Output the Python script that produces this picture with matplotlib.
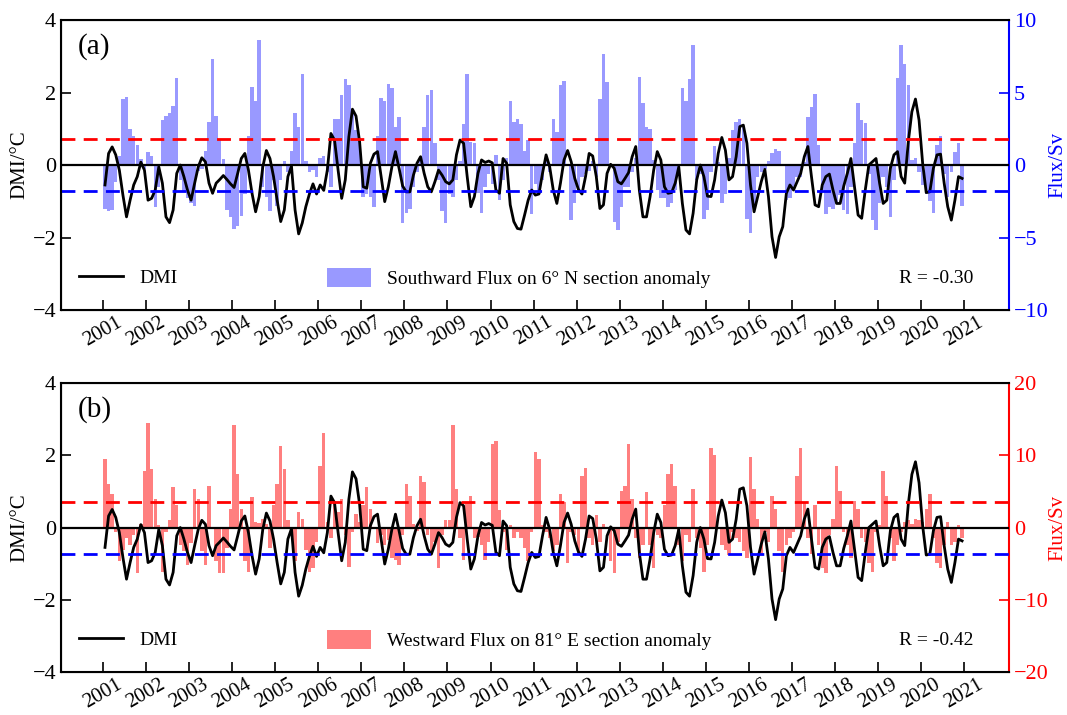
import numpy as np
import matplotlib
matplotlib.use("Agg")
import matplotlib.pyplot as plt
from matplotlib.patches import Patch
from matplotlib.lines import Line2D

plt.rcParams["font.family"] = ["Liberation Serif", "DejaVu Serif"]

# monthly data, Jan 2001 - Dec 2020 (one row per year)
dmi = [
    -0.55, 0.32, 0.50, 0.28, -0.14, -0.83, -1.43, -0.97, -0.55, -0.32, 0.08, -0.14,
    -0.97, -0.92, -0.69, -0.05, -0.50, -1.43, -1.59, -1.24, -0.23, 0.00, -0.32, -0.69,
    -0.97, -0.50, -0.05, 0.20, 0.09, -0.50, -0.78, -0.50, -0.40, -0.29, -0.40, -0.52,
    -0.62, -0.23, 0.18, 0.32, -0.14, -0.78, -1.29, -0.87, -0.05, 0.40, 0.18, -0.32,
    -0.97, -1.56, -1.24, -0.32, -0.03, -1.24, -1.90, -1.60, -1.15, -0.80, -0.52, -0.80,
    -0.55, -0.70, -0.14, 0.87, 0.69, -0.14, -0.92, -0.41, 0.78, 1.54, 1.35, 0.64,
    -0.60, -0.64, 0.05, 0.30, 0.37, -0.32, -1.01, -0.60, -0.05, 0.37, -0.09, -0.58,
    -0.74, -0.74, -0.28, 0.05, 0.23, -0.23, -0.60, -0.74, -0.46, -0.14, -0.28, -0.46,
    -0.52, -0.41, 0.28, 0.69, 0.60, -0.32, -1.15, -0.87, -0.23, 0.14, 0.07, 0.11,
    0.06, -0.69, -0.78, 0.18, 0.05, -1.10, -1.56, -1.75, -1.77, -1.38, -0.97, -0.69,
    -0.83, -0.80, -0.23, 0.28, -0.05, -0.69, -1.06, -0.50, 0.14, 0.40, 0.09, -0.37,
    -0.67, -0.80, -0.32, 0.32, 0.25, -0.32, -1.20, -1.10, -0.23, 0.02, -0.09, -0.46,
    -0.52, -0.37, -0.21, 0.23, 0.51, -0.69, -1.43, -1.43, -0.87, -0.14, 0.37, 0.14,
    -0.60, -0.78, -0.76, -0.50, -0.05, -1.06, -1.79, -1.90, -1.33, -0.41, 0.00, -0.32,
    -0.86, -0.87, -0.41, 0.32, 0.76, 0.41, -0.41, -0.32, 0.23, 1.06, 1.10, 0.60,
    -0.55, -1.29, -0.87, -0.46, -0.12, -0.87, -1.98, -2.55, -1.98, -1.70, -0.78, -0.55,
    -0.69, -0.46, -0.23, 0.23, 0.51, -0.32, -1.10, -1.15, -0.55, -0.32, -0.25, -0.69,
    -1.06, -1.06, -0.58, -0.23, 0.18, -0.60, -1.38, -1.47, -0.69, 0.00, 0.09, 0.18,
    -0.50, -1.06, -0.97, -0.09, 0.28, 0.37, -0.32, -0.50, 0.64, 1.47, 1.82, 1.24,
    0.05, -0.76, -0.74, -0.09, 0.28, 0.30, -0.50, -1.15, -1.52, -0.97, -0.32, -0.37,
]

# southward flux on 6N section anomaly (Sv)
flux_south = [
    -3.0, -3.2, -3.1, -1.2, 0.6, 4.55, 4.7, 2.5, 2.0, 1.4, 0.4, -0.3,
    0.9, 0.6, -2.9, -1.5, 3.1, 3.4, 3.6, 4.1, 6.0, -1.0, -1.8, -2.3,
    -2.6, -2.8, -0.4, -0.3, 1.0, 3.0, 7.3, 3.4, 1.7, 0.4, -3.1, -3.6,
    -4.4, -4.2, -3.5, -2.0, 2.0, 5.4, 4.4, 8.6, -1.5, -2.2, -3.2, -1.0,
    -2.8, -1.0, 0.3, -0.5, 1.0, 3.6, 2.6, 6.3, 0.3, -0.5, -0.35, -0.8,
    0.45, 0.6, -0.5, -1.5, 3.2, 3.2, 4.8, 5.9, 5.5, 3.8, 2.4, 1.7,
    -2.2, -2.0, -2.2, -2.9, 2.0, 4.6, 4.4, 5.6, 5.3, 2.6, 3.3, -4.0,
    -3.3, -3.0, -1.5, -0.5, 0.5, 2.6, 4.8, 5.2, 1.5, -1.0, -3.2, -4.0,
    -2.0, -2.2, -1.0, 0.3, 2.8, 6.3, 1.6, 1.5, -1.9, -3.3, -1.5, -0.6,
    -1.3, 0.7, -2.4, -1.0, 0.5, 4.4, 3.0, 3.2, 2.8, 1.0, 1.7, -3.4,
    -1.3, -2.0, -1.0, 0.3, -0.5, 3.2, 2.3, 5.5, 5.8, -0.1, -3.8, -2.6,
    -1.7, -0.8, -0.6, -0.4, 0.3, -0.8, 4.55, 7.65, 5.7, 0.1, -3.9, -4.5,
    -2.9, -1.5, -1.5, -0.5, 0.5, 6.1, 4.25, 2.6, 2.5, 0.35, -1.7, -2.3,
    -2.3, -2.9, -2.6, -1.7, -0.5, 5.3, 4.4, 5.9, 8.3, -1.0, -0.6, -3.7,
    -3.1, -0.5, 1.3, 0.2, -2.6, -2.0, 0.5, 2.4, 3.0, 3.2, 2.6, -3.7,
    -4.7, -2.9, -0.8, -0.5, -0.3, 0.3, 0.8, 1.1, 1.0, -0.1, -2.4, -2.3,
    -1.5, -0.8, -0.8, 0.2, 3.3, 4.0, 4.9, 1.4, -1.7, -3.4, -2.9, -3.0,
    -2.6, -2.1, -3.1, -3.4, -1.5, 1.5, 4.25, 3.1, 2.9, -0.6, -3.8, -4.5,
    -2.6, -0.8, -1.5, -3.6, -1.0, 6.0, 8.3, 7.0, 5.5, 0.35, 0.45, -0.5,
    -1.4, -2.0, -2.5, -3.3, 1.4, 2.0, -0.6, -2.2, -0.5, 0.9, 1.5, -2.8,
]

# westward flux on 81E section anomaly (Sv)
flux_west = [
    9.45, 6.0, 4.7, -0.6, -4.7, -3.1, -1.5, -2.4, -1.0, -6.3, 0.5, 7.85,
    14.5, 8.1, 4.0, 0.3, -6.1, -0.6, 1.0, 5.6, 3.1, -2.4, -3.3, -5.2,
    -2.2, 5.3, 4.0, -3.3, -5.2, 5.8, -0.2, -4.7, -6.3, -6.3, -2.9, 2.6,
    14.2, 7.4, 2.6, -4.7, -6.1, 4.2, 0.8, 0.6, 1.2, 0.5, -2.9, 3.1,
    6.0, 11.3, 8.1, 1.0, -1.0, -4.7, 2.1, 1.2, -3.1, -6.1, -5.6, -2.0,
    8.5, 13.1, 0.8, -1.5, 3.7, 2.1, 4.0, -1.0, -5.4, -0.6, 1.9, 0.8,
    3.1, 5.6, 2.6, -0.1, -2.2, -1.0, -2.4, -1.7, -4.2, -4.5, -5.2, -1.0,
    6.0, 4.4, 0.5, -0.5, 7.2, 6.3, -1.0, -3.3, -2.0, -5.6, -1.0, 1.0,
    1.0, 14.2, 5.3, -1.5, -4.5, 3.5, 4.4, -1.5, -1.3, -2.4, -4.5, -2.0,
    11.5, 12.0, 2.4, -0.6, -3.1, 0.3, -1.5, -0.6, -1.5, -2.9, -4.7, -0.6,
    10.4, 9.45, 0.3, -0.6, -1.5, -3.3, -2.4, 4.7, 3.5, -4.9, -0.6, -1.0,
    -3.8, 7.2, 8.3, -1.5, -2.4, 1.7, -2.0, 0.5, 0.1, -4.7, -6.3, -2.0,
    5.1, 5.8, 11.5, 4.0, -1.5, -4.2, -2.4, 4.9, -2.4, -5.6, -1.0, -1.5,
    3.1, 7.4, 8.8, 5.8, -2.4, -4.7, -1.0, -2.0, 5.3, -1.5, -2.9, -6.1,
    -2.4, 11.0, 10.1, -0.1, -2.4, -3.1, -3.8, -0.6, -1.5, -2.0, -3.3, -4.2,
    9.7, 5.3, 1.2, -3.8, -0.6, -2.0, 4.4, 2.6, -3.3, -6.1, -2.4, -1.5,
    -0.6, 7.2, 11.0, 3.5, -1.5, -3.6, 3.1, -2.4, -5.6, -6.3, -1.0, 1.2,
    8.5, 5.1, -0.6, -2.4, -4.2, 3.7, 2.6, -1.5, -2.0, -4.9, -6.1, -0.6,
    0.3, 7.85, 4.4, -1.5, -4.7, -2.4, -0.6, 0.8, 1.0, 0.5, 1.2, 1.0,
    0.8, 2.6, 4.7, -1.5, -4.9, -5.6, -2.4, 0.8, -2.4, -2.0, 0.4, -1.5,
]

year_ticks = list(range(2001, 2022))
dmi_limit = 0.72
panel_a_text = ["(a)", "Southward Flux on 6° N section anomaly", "R = -0.30"]
panel_b_text = ["(b)", "Westward Flux on 81° E section anomaly", "R = -0.42"]

t = 2001 + (np.arange(len(dmi)) + 0.5) / 12


def draw_panel(ax, flux, color, alpha, flim, fticks, texts):
    ax2 = ax.twinx()
    ax2.bar(t, flux, width=0.95 / 12, color=color, alpha=alpha, linewidth=0)
    ax2.set_ylim(-flim, flim)
    ax2.set_yticks(fticks)
    ax2.tick_params(axis="y", direction="in", length=7, width=1.2,
                    colors=color, labelsize=16)
    ax2.spines["right"].set_color(color)
    ax2.spines["right"].set_linewidth(1.5)
    ax2.set_ylabel("Flux/Sv", color=color, fontsize=15, labelpad=0)

    ax.set_zorder(ax2.get_zorder() + 1)
    ax.patch.set_visible(False)
    ax.plot(t, dmi, color="black", lw=2)
    ax.axhline(0, color="black", lw=1.6)
    ax.axhline(dmi_limit, color="red", lw=2, ls=(0, (5, 3)))
    ax.axhline(-dmi_limit, color="blue", lw=2, ls=(0, (5, 3)))
    ax.set_ylim(-4, 4)
    ax.set_yticks([-4, -2, 0, 2, 4])
    ax.set_xlim(2000.02, 2022.05)
    ax.set_xticks(year_ticks)
    ax.set_xticklabels([str(y) for y in year_ticks], rotation=30, ha="center")
    ax.tick_params(direction="in", length=7, width=1.2, labelsize=16)
    ax.tick_params(axis="x", labelsize=15, pad=2)
    for s in ["left", "top", "bottom"]:
        ax.spines[s].set_linewidth(1.5)
    ax.spines["right"].set_visible(False)
    ax.set_ylabel("DMI/°C", fontsize=15, labelpad=2)

    ax.text(0.018, 0.955, texts[0], transform=ax.transAxes, fontsize=21,
            va="top", ha="left")
    leg1 = ax.legend([Line2D([], [], color="black", lw=2)], ["DMI"],
                     loc="center left", bbox_to_anchor=(0.0, 0.11),
                     frameon=False, fontsize=14, handlelength=2.3,
                     handletextpad=0.85)
    ax.add_artist(leg1)
    ax.legend([Patch(color=color, alpha=alpha, lw=0)], [texts[1]],
              loc="center left", bbox_to_anchor=(0.262, 0.11),
              frameon=False, fontsize=14, handlelength=2.25,
              handleheight=1.1, handletextpad=0.85)
    ax.text(0.962, 0.11, texts[2], transform=ax.transAxes, fontsize=14,
            va="center", ha="right")
    return ax2


fig = plt.figure(figsize=(10.67, 7.15), dpi=100)
ax_a = fig.add_axes([0.0572, 0.5664, 0.8885, 0.4056])
ax_b = fig.add_axes([0.0572, 0.0601, 0.8885, 0.4042])

draw_panel(ax_a, flux_south, "blue", 0.4, 10, [-10, -5, 0, 5, 10], panel_a_text)
draw_panel(ax_b, flux_west, "red", 0.5, 20, [-20, -10, 0, 10, 20], panel_b_text)

fig.savefig("out.png", dpi=100)
